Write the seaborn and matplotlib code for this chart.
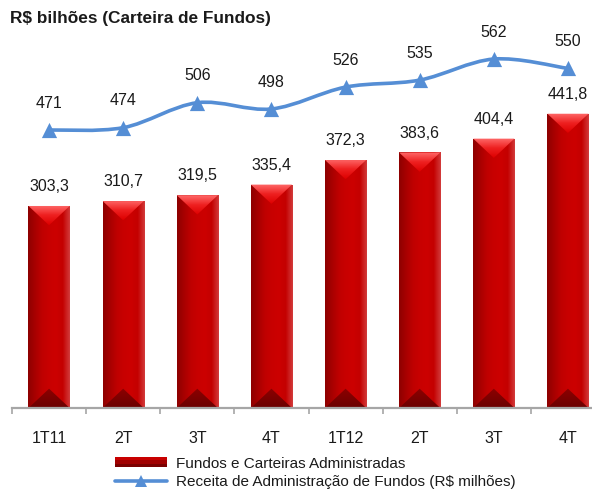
import numpy as np
import pandas as pd
import matplotlib
matplotlib.use("Agg")
import matplotlib.pyplot as plt
import seaborn as sns
from matplotlib.path import Path
from matplotlib.patches import PathPatch, Polygon, Rectangle
from matplotlib.lines import Line2D
from matplotlib.legend_handler import HandlerBase
from matplotlib.colors import to_rgb

# Quarterly data
quarters = ["1T11", "2T11", "3T11", "4T11", "1T12", "2T12", "3T12", "4T12"]
tick_labels = ["1T11", "2T", "3T", "4T", "1T12", "2T", "3T", "4T"]
carteira = [303.3, 310.7, 319.5, 335.4, 372.3, 383.6, 404.4, 441.8]   # R$ bilhões
receita = [471, 474, 506, 498, 526, 535, 562, 550]                     # R$ milhões

bar_label = "Fundos e Carteiras Administradas"
line_label = "Receita de Administração de Fundos (R$ milhões)"
title = "R$ bilhões (Carteira de Fundos)"

LINE_BLUE = "#558ED5"
W, H = 592, 491

sns.set_theme(style="white")
plt.rcParams["font.family"] = ["Liberation Sans", "DejaVu Sans"]

fig = plt.figure(figsize=(W / 100, H / 100), dpi=100)
ax = fig.add_axes([12 / W, 83 / H, 593 / W, 368 / H])

df = pd.DataFrame({"trimestre": quarters, "carteira": carteira})
sns.barplot(data=df, x="trimestre", y="carteira", order=quarters,
            color="#c00000", width=0.555, ax=ax, zorder=2)
ax.set_ylim(0, 552.5)
ax.set_xlim(-0.5, len(quarters) - 0.5)


def gradient_image(colors, n=64, horizontal=True):
    stops = np.linspace(0, 1, len(colors))
    xs = np.linspace(0, 1, n)
    rgb = np.array([to_rgb(c) for c in colors])
    arr = np.stack([np.interp(xs, stops, rgb[:, k]) for k in range(3)], axis=-1)
    return arr[np.newaxis, :, :] if horizontal else arr[:, np.newaxis, :]


body = gradient_image(["#8e0000", "#a80000", "#bf0000", "#c80000", "#cc0000", "#c40000", "#d23a3a"])
top_grad = gradient_image(["#ff6a6a", "#ee2020", "#dd0000"], horizontal=False)
bot_grad = gradient_image(["#6a0000", "#7c0000", "#8c0000"], horizontal=False)

bevel = 29.0  # depth of the end bevels, in data units
for patch, val in zip(ax.patches, carteira):
    x0 = patch.get_x()
    w = patch.get_width()
    x1 = x0 + w
    xc = x0 + w / 2
    patch.set_facecolor("none")
    patch.set_edgecolor("none")
    im = ax.imshow(body, extent=[x0, x1, 0, val], aspect="auto", zorder=2.1,
                   interpolation="bilinear")
    im.set_clip_path(Rectangle((x0, 0), w, val, transform=ax.transData))
    # top bevel (pointing down)
    tri_top = Polygon([(x0, val), (x1, val), (xc, val - bevel)], closed=True,
                      transform=ax.transData, facecolor="none", edgecolor="none")
    ax.add_patch(tri_top)
    imt = ax.imshow(top_grad, extent=[x0, x1, val - bevel, val], aspect="auto",
                    zorder=2.2, interpolation="bilinear")
    imt.set_clip_path(tri_top)
    # bottom bevel (pointing up)
    tri_bot = Polygon([(x0, 0), (x1, 0), (xc, bevel)], closed=True,
                      transform=ax.transData, facecolor="none", edgecolor="none")
    ax.add_patch(tri_bot)
    imb = ax.imshow(bot_grad, extent=[x0, x1, bevel, 0], aspect="auto",
                    zorder=2.2, interpolation="bilinear")
    imb.set_clip_path(tri_bot)
    ax.text(xc, val + 29, f"{val:.1f}".replace(".", ","), ha="center", va="center",
            fontsize=11.5, color="#1a1a1a", zorder=5)

ax.set_xlim(-0.5, len(quarters) - 0.5)
ax.set_ylim(0, 552.5)

# axis styling: ticks at category boundaries, labels at centers
for s in ["left", "right", "top"]:
    ax.spines[s].set_visible(False)
ax.spines["bottom"].set_color("#a6a6a6")
ax.spines["bottom"].set_linewidth(1.6)
ax.set_yticks([])
ax.set_xlabel("")
ax.set_ylabel("")
ax.set_xticks(np.arange(-0.5, len(quarters), 1.0))
ax.set_xticklabels([])
ax.set_xticks(np.arange(len(quarters)), minor=True)
ax.set_xticklabels(tick_labels, minor=True, fontsize=11.5, color="#1a1a1a")
ax.tick_params(axis="x", which="major", direction="out", length=4, width=1.2,
               color="#a6a6a6", bottom=True)
ax.tick_params(axis="x", which="minor", length=0, pad=16.5, bottom=True)

# secondary axis for the revenue line
ax2 = ax.twinx()
ax2.set_ylim(114.6, 586.4)
ax2.set_yticks([])
for s in ax2.spines.values():
    s.set_visible(False)

xs = np.arange(len(receita), dtype=float)
ys = np.array(receita, dtype=float)
pts = np.column_stack([xs, ys])
verts = [pts[0]]
codes = [Path.MOVETO]
n = len(pts)
for i in range(n - 1):
    p0 = pts[i - 1] if i > 0 else pts[i]
    p1 = pts[i]
    p2 = pts[i + 1]
    p3 = pts[i + 2] if i + 2 < n else pts[i + 1]
    c1 = p1 + (p2 - p0) / 6.0
    c2 = p2 - (p3 - p1) / 6.0
    verts += [c1, c2, p2]
    codes += [Path.CURVE4] * 3
ax2.add_patch(PathPatch(Path(verts, codes), facecolor="none", edgecolor=LINE_BLUE,
                        linewidth=2.6, capstyle="round", zorder=3))
sns.scatterplot(x=xs, y=ys, marker="^", s=120, color=LINE_BLUE, edgecolor=LINE_BLUE,
                linewidth=0, ax=ax2, zorder=4, legend=False)
for x, v in zip(xs, receita):
    ax2.text(x, v + 34.5, f"{v}", ha="center", va="center", fontsize=11.5,
             color="#1a1a1a")
ax2.set_xlim(-0.5, len(quarters) - 0.5)


class BarHandler(HandlerBase):
    def create_artists(self, legend, orig, xd, yd, width, height, fontsize, trans):
        h = height * 0.95
        y0 = yd + (height - h) / 2
        top = Rectangle((xd, y0 + h * 0.5), width, h * 0.5, facecolor="#c80000",
                        edgecolor="none", transform=trans)
        bot = Rectangle((xd, y0), width, h * 0.5, facecolor="#7a0000",
                        edgecolor="none", transform=trans)
        mid = Rectangle((xd, y0 + h * 0.3), width, h * 0.4, facecolor="#a00000",
                        edgecolor="none", transform=trans)
        return [top, bot, mid]


bar_handle = Rectangle((0, 0), 1, 1, facecolor="#b00000")
line_handle = Line2D([], [], color=LINE_BLUE, linewidth=2.6, marker="^",
                     markersize=8, markeredgewidth=0)
fig.legend([bar_handle, line_handle], [bar_label, line_label],
           handler_map={Rectangle: BarHandler()},
           loc="upper left", bbox_to_anchor=(104 / W, 1 - 446 / H),
           frameon=False, fontsize=11, handlelength=3.4, handletextpad=0.6,
           labelspacing=0.3, borderpad=0.2, labelcolor="#1a1a1a")

fig.text(10 / W, 1 - 18 / H, title, fontsize=12.4, fontweight="bold", ha="left",
         va="center", color="#1a1a1a")

fig.savefig("out.png", dpi=100)
